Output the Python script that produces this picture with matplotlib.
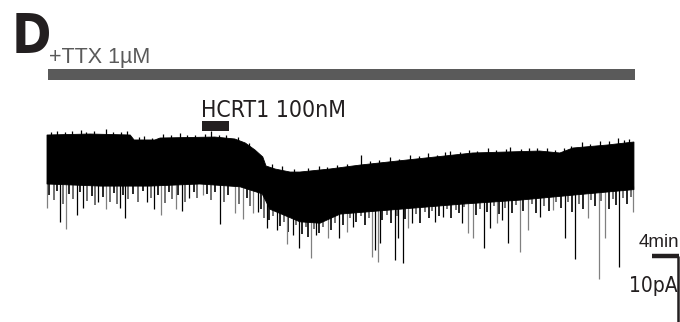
import numpy as np
import matplotlib.pyplot as plt

# whole-cell trace, time in min, current in pA (0 = starting holding level)
top_t = [0.0, 6.6, 12.8, 13.4, 16.6, 17.4, 25.8, 28.9, 30.5, 32.0, 33.2, 33.7,
         35.1, 37.4, 38.9, 43.5, 48.2, 55.4, 65.5, 75.8, 78.9, 80.9, 86.2, 90.3]
top_I = [0.0, 0.14, 0.0, -0.71, -0.71, -0.43, -0.29, -0.57, -1.14, -2.14, -3.14, -4.43,
         -4.86, -5.29, -5.29, -4.86, -4.29, -3.57, -2.57, -2.29, -2.57, -1.86, -1.43, -1.0]

band_t = [0.0, 8.2, 15.8, 23.5, 29.7, 33.1, 34.3, 38.9, 42.0, 45.1, 54.3, 63.5,
          72.8, 82.0, 90.3]
band_I = [-7.0, -7.3, -7.3, -7.0, -7.4, -8.4, -10.6, -12.4, -12.6, -11.3,
          -10.6, -9.9, -9.3, -8.5, -7.8]

# small inward events hanging below the noise band
fringe_t = [0.3, 1.1, 1.6, 2.4, 3.4, 4.0, 5.0, 6.2, 6.9, 7.4, 8.6, 9.7, 10.3, 10.8,
            11.7, 12.5, 13.3, 14.0, 14.7, 16.0, 17.0, 18.2, 18.8, 19.3, 20.2, 21.2,
            22.6, 23.1, 24.6, 25.2, 25.9, 27.3, 27.9, 29.5, 30.8, 31.2, 32.9, 33.4,
            34.1, 34.7, 35.9, 36.4, 37.1, 38.3, 39.3, 39.9, 40.2, 41.0, 41.9, 42.5,
            43.7, 44.3, 45.6, 46.6, 47.6, 48.3, 48.9, 49.5, 51.6, 52.3, 52.9, 53.9,
            55.0, 56.8, 57.4, 58.1, 58.8, 59.3, 60.3, 61.5, 62.2, 62.9, 63.4, 64.2,
            66.0, 66.6, 67.7, 68.7, 69.6, 70.4, 71.5, 72.1, 73.3, 74.6, 75.2, 76.4,
            77.2, 78.3, 79.1, 80.2, 80.7, 81.8, 82.5, 83.7, 84.3, 85.3, 86.5, 87.1,
            87.6, 88.6, 89.2, 89.8]
fringe_I = [-8.6, -9.3, -8.0, -9.9, -8.4, -9.1, -8.2, -9.4, -8.7, -10.0, -8.9, -9.6,
            -8.3, -9.8, -8.6, -9.2, -8.4, -9.6, -8.0, -9.0, -8.5, -9.7, -8.2, -9.1,
            -8.6, -9.5, -8.1, -9.0, -8.4, -9.3, -8.2, -9.6, -8.5, -9.8, -9.0, -10.2,
            -10.6, -11.8, -12.2, -11.5, -13.0, -12.4, -13.8, -12.9, -14.1, -13.2, -14.6,
            -13.4, -14.0, -13.1, -13.6, -12.5, -12.8, -11.9, -12.4, -11.6, -12.9, -11.8,
            -12.2, -11.4, -12.6, -11.5, -12.0, -11.3, -12.5, -11.0, -11.9, -10.8, -11.5,
            -10.6, -11.8, -10.7, -11.2, -10.3, -11.4, -10.5, -11.0, -10.2, -11.3, -10.4,
            -11.1, -10.0, -10.9, -9.9, -11.2, -10.1, -10.8, -9.6, -10.4, -9.5, -11.0,
            -9.8, -10.6, -9.3, -10.2, -9.4, -10.5, -9.1, -10.0, -9.0, -9.8, -8.8]

# larger mEPSC-like events
spike_t = [0.0, 2.0, 2.9, 4.6, 5.5, 7.8, 9.1, 11.2, 12.0, 15.4, 16.5, 17.5, 19.8,
           20.8, 21.8, 24.0, 26.6, 28.9, 30.2, 31.7, 32.5, 33.8, 35.4, 36.9, 37.8,
           38.8, 40.6, 41.4, 43.2, 44.9, 46.2, 47.1, 50.0, 50.5, 50.9, 51.2, 53.5,
           54.0, 54.8, 55.5, 56.2, 59.7, 60.9, 63.8, 64.8, 65.5, 67.2, 68.2, 69.2,
           70.0, 70.9, 72.8, 74.0, 75.8, 77.8, 79.7, 81.2, 83.2, 84.9, 85.8, 88.0, 90.2]
spike_I = [-10.4, -12.4, -13.4, -11.4, -10.4, -9.6, -10.6, -10.4, -11.9, -9.6, -10.6,
           -11.4, -10.6, -10.9, -9.0, -8.6, -12.7, -11.1, -12.0, -11.1, -11.0, -13.3,
           -13.6, -15.6, -14.3, -16.1, -17.6, -14.3, -14.7, -14.7, -13.9, -13.1, -17.4,
           -16.4, -18.1, -15.4, -17.9, -14.7, -18.3, -13.3, -12.6, -12.4, -11.7, -12.6,
           -14.0, -14.7, -16.1, -13.3, -12.6, -12.1, -15.4, -16.7, -13.6, -11.7, -10.7,
           -14.7, -17.7, -11.9, -20.6, -14.7, -18.9, -11.0]
spike_grey = [1, 0, 1, 0, 0, 0, 1, 0, 0, 0, 0, 1, 1, 0, 0, 1, 0, 1, 1, 1, 0, 0, 0, 1,
              0, 0, 1, 0, 1, 0, 1, 0, 1, 0, 1, 0, 0, 0, 0, 1, 0, 0, 0, 0, 1, 1, 0, 0,
              1, 0, 0, 1, 1, 0, 1, 0, 0, 1, 1, 1, 0, 1]

# outward blips on the ragged top edge (height above the envelope, pA)
up_t = [0.6, 1.5, 2.7, 3.8, 5.2, 6.0, 7.3, 9.0, 10.1, 11.4, 12.3, 14.2, 14.9, 16.1,
        17.8, 19.0, 20.5, 21.6, 22.7, 24.3, 25.2, 26.4, 27.6, 29.4, 31.0, 34.6,
        36.2, 38.0, 40.1, 41.8, 43.0, 44.6, 46.1, 48.3, 49.7, 51.1, 52.7, 54.2,
        55.9, 57.3, 58.6, 60.0, 61.2, 62.0, 63.5, 64.9, 66.2, 67.9, 69.1, 70.6,
        71.3, 72.9, 74.2, 75.4, 76.9, 78.2, 79.6, 80.6, 82.3, 83.5, 85.0, 86.4,
        87.8, 88.7, 89.6]
up_h = [0.4, 0.6, 0.3, 0.5, 0.6, 0.3, 0.5, 0.7, 0.3, 0.4, 0.6, 0.4, 0.5, 0.3,
        0.5, 0.4, 0.6, 0.3, 0.4, 0.5, 0.9, 0.3, 0.4, 0.5, 0.4, 0.6, 0.7, 0.4,
        0.5, 0.6, 0.3, 0.5, 0.4, 1.4, 0.4, 0.5, 0.7, 0.3, 0.6, 0.4, 0.7, 0.3,
        0.5, 0.6, 0.4, 0.5, 0.3, 0.6, 0.4, 0.5, 0.7, 0.3, 0.5, 0.4, 0.6, 0.3,
        0.5, 0.4, 0.7, 0.4, 0.6, 0.5, 0.8, 0.4, 0.5]

ttx_on, ttx_off = 0.15, 90.5
hcrt_on, hcrt_off = 23.8, 28.0

plt.rcParams["font.family"] = ["Liberation Sans", "DejaVu Sans"]
cond = dict(family="DejaVu Sans", fontstretch="condensed")

W, H = 680, 322
fig = plt.figure(figsize=(6.8, 3.22), dpi=100)
ax = fig.add_axes([0, 0, 1, 1])
ax.set_xlim(-47 / 6.5, (W - 47) / 6.5)
ax.set_ylim((135 - H) / 7, 135 / 7)
ax.axis("off")

# noise band
poly_t = np.concatenate([top_t, band_t[::-1]])
poly_I = np.concatenate([top_I, band_I[::-1]])
ax.fill(poly_t, poly_I, color="black", lw=0.6, zorder=3)

# events hanging off the band
f_start = np.interp(fringe_t, band_t, band_I) + 0.5
f_cols = ["black" if i % 2 == 0 else "0.35" for i in range(len(fringe_t))]
ax.vlines(fringe_t, f_start, fringe_I, colors=f_cols, lw=1.2, zorder=2)

s_start = np.interp(spike_t, band_t, band_I) + 0.5
s_cols = ["0.5" if g else "black" for g in spike_grey]
ax.vlines(spike_t, s_start, spike_I, colors=s_cols, lw=0.9, zorder=2)

u_base = np.interp(up_t, top_t, top_I)
ax.vlines(up_t, u_base - 0.3, u_base + np.array(up_h), colors="black", lw=0.9, zorder=3)

# drug application bars
ax.fill_between([ttx_on, ttx_off], 7.9, 9.4, color="#5a5a5a", lw=0)
ax.fill_between([hcrt_on, hcrt_off], 0.6, 2.0, color="#231f20", lw=0)

# scale bars: 4 min, 10 pA
ax.plot([93.1, 97.2], [-17.3, -17.3], color="#231f20", lw=3.2, solid_capstyle="butt")
ax.plot([97.05, 97.05], [-17.3, -27.3], color="#231f20", lw=1.8, solid_capstyle="butt")

def put(x, y, s, **kw):
    fig.text(x / W, 1 - y / H, s, va="baseline", ha="left", **kw)

put(12, 52, "D", fontsize=38, fontweight="bold", color="#231f20", **cond)
put(49, 63, "+TTX 1\u00b5M", fontsize=15.5, color="#5a5a5a")
put(201, 117, "HCRT1 100nM", fontsize=16.5, color="#231f20", **cond)
put(639, 247, "4min", fontsize=13.5, color="#231f20")
put(629, 292, "10pA", fontsize=15, color="#231f20", **cond)

fig.savefig("out.png", dpi=100)
